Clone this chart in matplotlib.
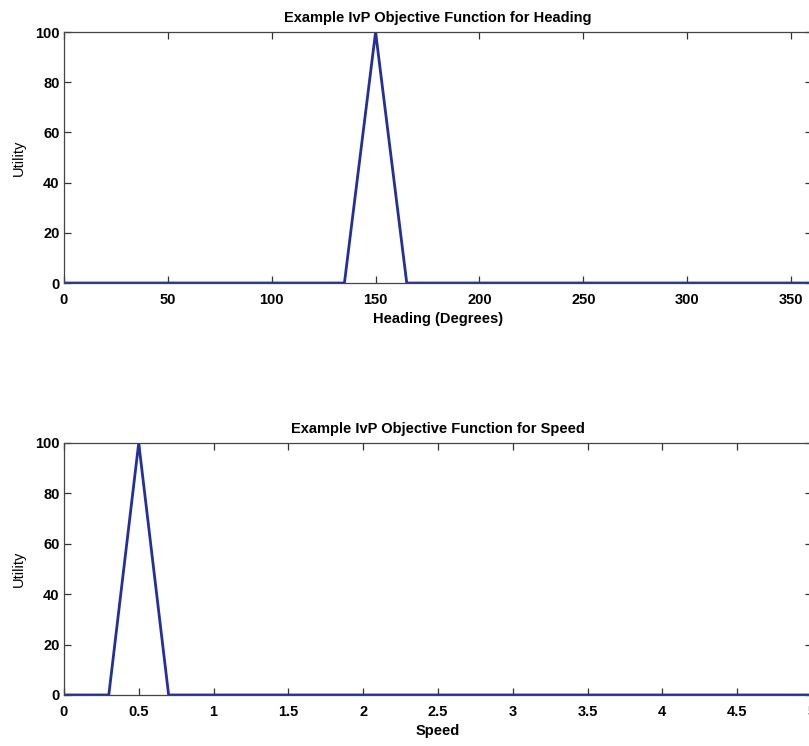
import numpy as np
import matplotlib
matplotlib.use("Agg")
import matplotlib.pyplot as plt

# heading objective function (piecewise linear)
heading = [0, 135, 150, 165, 360]
heading_util = [0, 0, 100, 0, 0]
heading_ticks = [0, 50, 100, 150, 200, 250, 300, 350]

# speed objective function
speed = [0, 0.3, 0.5, 0.7, 5]
speed_util = [0, 0, 100, 0, 0]
speed_ticks = [0, 0.5, 1, 1.5, 2, 2.5, 3, 3.5, 4, 4.5, 5]
speed_labels = ["0", "0.5", "1", "1.5", "2", "2.5", "3", "3.5", "4", "4.5", "5"]

util_ticks = [0, 20, 40, 60, 80, 100]

plt.rcParams['font.family'] = ['Liberation Sans', 'DejaVu Sans']
line_col = "#23309a"

fig = plt.figure(figsize=(8.09, 7.46), dpi=100)
ax1 = fig.add_axes([0.079, 0.6206, 0.9246, 0.3365])
ax2 = fig.add_axes([0.079, 0.0684, 0.9246, 0.3378])


def style(ax):
    ax.set_ylim(0, 100)
    ax.set_yticks(util_ticks)
    ax.tick_params(direction="in", length=5, width=0.9, top=True, right=True,
                   labelsize=10.5, color="#333333")
    ax.tick_params(axis="x", pad=7)
    ax.tick_params(axis="y", pad=3)
    for lbl in ax.get_xticklabels() + ax.get_yticklabels():
        lbl.set_fontweight("bold")
    for s in ax.spines.values():
        s.set_linewidth(0.9)
        s.set_color("#444444")
    ax.set_ylabel("Utility", fontsize=10.5, labelpad=7)


ax1.plot(heading, heading_util, color=line_col, lw=2)
ax1.set_xlim(0, 360)
ax1.set_xticks(heading_ticks)
style(ax1)
ax1.set_xlabel("Heading (Degrees)", fontsize=10.5, fontweight="bold", labelpad=4)
ax1.set_title("Example IvP Objective Function for Heading", fontsize=10.5,
              fontweight="bold", pad=7)

ax2.plot(speed, speed_util, color=line_col, lw=2)
ax2.set_xlim(0, 5)
ax2.set_xticks(speed_ticks)
ax2.set_xticklabels(speed_labels)
style(ax2)
ax2.set_xlabel("Speed", fontsize=10.5, fontweight="bold", labelpad=4)
ax2.set_title("Example IvP Objective Function for Speed", fontsize=10.5,
              fontweight="bold", pad=7)

fig.savefig("out.png", dpi=100)
